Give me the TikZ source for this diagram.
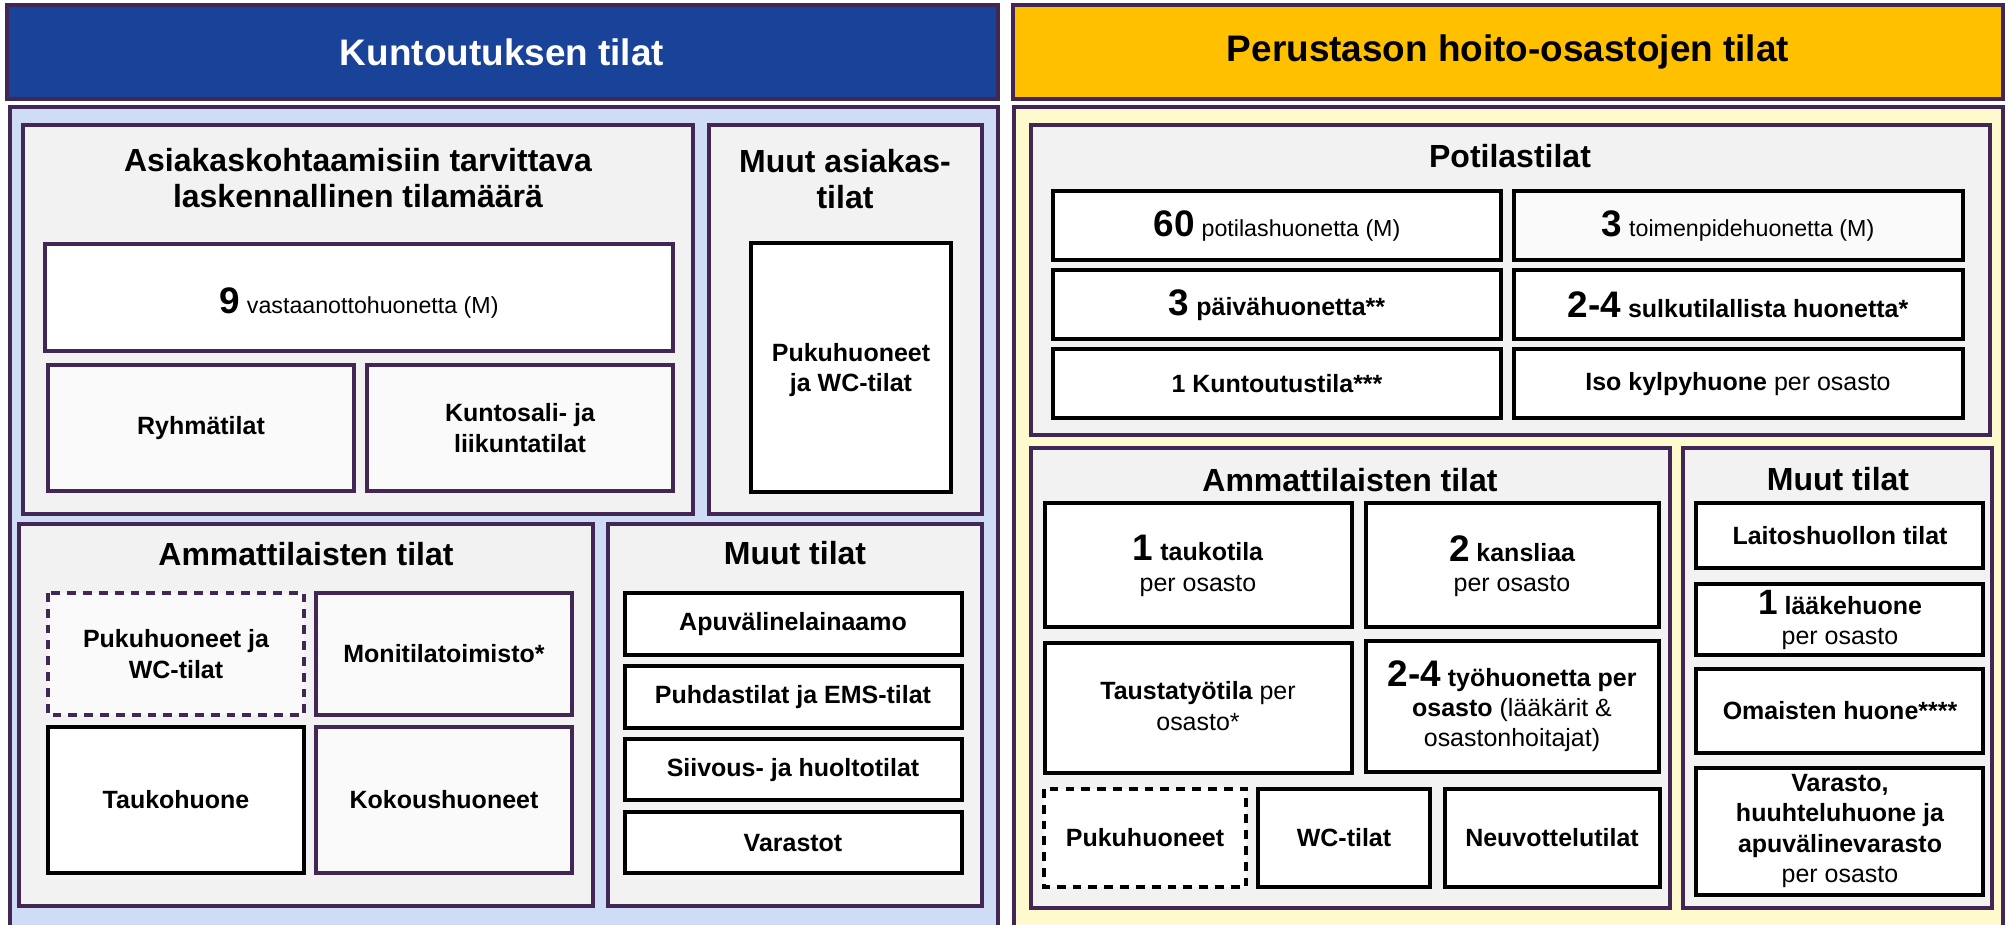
\documentclass[tikz,border=0pt]{standalone}
\usepackage{fontspec}
\setmainfont{Liberation Sans}

\definecolor{hdrblue}{RGB}{25,66,153}
\definecolor{hdrgold}{RGB}{255,192,0}
\definecolor{bodyblue}{RGB}{207,220,245}
\definecolor{bodyyellow}{RGB}{255,249,206}
\definecolor{panelgray}{RGB}{242,242,242}
\definecolor{roomgray}{RGB}{250,250,250}
\definecolor{framepurple}{RGB}{66,38,84}

\newcommand{\bignr}[1]{{\fontsize{10.5}{10.5}\selectfont\bfseries #1}}
\newcommand{\reg}[1]{{\mdseries #1}}
\newcommand{\smallreg}[1]{{\fontsize{6.6}{7.4}\selectfont\mdseries #1}}

\tikzset{
  hdr/.style={font=\fontsize{10.5}{12}\selectfont\bfseries},
  sect/.style={fill=panelgray,draw=framepurple,line width=0.9pt},
  room/.style={fill=white,draw=black,line width=0.9pt},
  roomp/.style={fill=roomgray,draw=framepurple,line width=0.9pt},
  ttl/.style={font=\fontsize{9.1}{10}\selectfont\bfseries,align=center},
  lbl/.style={font=\fontsize{7.1}{8.6}\selectfont\bfseries,align=center},
}

\begin{document}
\begin{tikzpicture}[x=0.01cm,y=-0.01cm]
\useasboundingbox[fill=white] (0,0) rectangle (2009,924);

% vasen puoli: kuntoutus
\draw[fill=hdrblue,draw=framepurple,line width=0.9pt] (7,5) rectangle (998,99);
\node[hdr,text=white] (kt) at (502,52) {Kuntoutuksen tilat};
\draw[fill=bodyblue,draw=framepurple,line width=0.9pt] (10,107) rectangle (998,940);

\draw[sect] (23,125) rectangle (693,514);
\node[ttl] (asiak) at (358,178) {Asiakaskohtaamisiin tarvittava\\laskennallinen tilamäärä};
\draw[fill=white,draw=framepurple,line width=0.9pt] (45,244) rectangle (673,351);
\node[lbl] (vast) at (359,303) {\bignr{9} \smallreg{vastaanottohuonetta (M)}};
\draw[roomp] (48,365) rectangle (354,491);
\node[lbl] (ryhma) at (201,428) {Ryhmätilat};
\draw[roomp] (367,365) rectangle (673,491);
\node[lbl] (kunto) at (520,428) {Kuntosali- ja\\liikuntatilat};

\draw[sect] (709,125) rectangle (982,514);
\node[ttl] (muuta) at (845,179) {Muut asiakas-\\tilat};
\draw[room] (751,243) rectangle (951,492);
\node[lbl] (pukua) at (851,370) {Pukuhuoneet\\ja WC-tilat};

\draw[sect] (19,524) rectangle (593,906);
\node[ttl] (amml) at (306,554) {Ammattilaisten tilat};
\draw[fill=roomgray,draw=framepurple,line width=0.9pt,dash pattern=on 2.5pt off 2pt] (48,593) rectangle (304,715);
\node[lbl] (pukul) at (176,654) {Pukuhuoneet ja\\WC-tilat};
\draw[roomp] (316,593) rectangle (572,715);
\node[lbl] (moni) at (444,654) {Monitilatoimisto*};
\draw[room] (48,727) rectangle (304,873);
\node[lbl] (tauko) at (176,800) {Taukohuone};
\draw[roomp] (316,727) rectangle (572,873);
\node[lbl] (kokous) at (444,800) {Kokoushuoneet};

\draw[sect] (608,524) rectangle (982,906);
\node[ttl] (muutl) at (795,553) {Muut tilat};
\draw[room] (625,593) rectangle (962,655);
\node[lbl] (apuv) at (793,624) {Apuvälinelainaamo};
\draw[room] (625,666) rectangle (962,728);
\node[lbl] (puhd) at (793,697) {Puhdastilat ja EMS-tilat};
\draw[room] (625,739) rectangle (962,800);
\node[lbl] (siiv) at (793,770) {Siivous- ja huoltotilat};
\draw[room] (625,812) rectangle (962,873);
\node[lbl] (var) at (793,843) {Varastot};

% oikea puoli: hoito-osastot
\draw[fill=hdrgold,draw=framepurple,line width=0.9pt] (1013,5) rectangle (2003,99);
\node[hdr] (pt) at (1508,52) {Perustason hoito-osastojen tilat};
\draw[fill=bodyyellow,draw=framepurple,line width=0.9pt] (1014,107) rectangle (2003,940);

\draw[sect] (1031,125) rectangle (1990,435);
\node[ttl] (pot) at (1510,156) {Potilastilat};
\draw[room] (1053,191) rectangle (1501,260);
\node[lbl] (pot60) at (1277,226) {\bignr{60} \smallreg{potilashuonetta (M)}};
\draw[fill=roomgray,draw=black,line width=0.9pt] (1514,191) rectangle (1963,260);
\node[lbl] (toim) at (1738,226) {\bignr{3} \smallreg{toimenpidehuonetta (M)}};
\draw[room] (1053,270) rectangle (1501,339);
\node[lbl] (paiva) at (1277,305) {\bignr{3} päivähuonetta**};
\draw[room] (1514,270) rectangle (1963,339);
\node[lbl] (sulku) at (1738,305) {\bignr{2-4} sulkutilallista huonetta*};
\draw[room] (1053,349) rectangle (1501,418);
\node[lbl] (kunt) at (1277,384) {1 Kuntoutustila***};
\draw[room] (1514,349) rectangle (1963,418);
\node[lbl] (kylpy) at (1738,384) {Iso kylpyhuone \reg{per osasto}};

\draw[sect] (1031,448) rectangle (1670,908);
\node[ttl] (ammr) at (1350,480) {Ammattilaisten tilat};
\draw[room] (1045,503) rectangle (1352,627);
\node[lbl] (taukor) at (1198,566) {\bignr{1} taukotila\\\reg{per osasto}};
\draw[room] (1366,503) rectangle (1659,627);
\node[lbl] (kans) at (1512,566) {\bignr{2} kansliaa\\\reg{per osasto}};
\draw[room] (1045,643) rectangle (1352,773);
\node[lbl] (taust) at (1198,706) {Taustatyötila \reg{per}\\\reg{osasto*}};
\draw[room] (1366,641) rectangle (1659,772);
\node[lbl] (tyoh) at (1512,706) {\bignr{2-4} työhuonetta per\\osasto \reg{(lääkärit \&}\\\reg{osastonhoitajat)}};
\draw[fill=white,draw=black,line width=0.9pt,dash pattern=on 2.5pt off 2pt] (1044,789) rectangle (1246,887);
\node[lbl] (pukur) at (1145,838) {Pukuhuoneet};
\draw[room] (1258,789) rectangle (1430,887);
\node[lbl] (wc) at (1344,838) {WC-tilat};
\draw[room] (1445,789) rectangle (1660,887);
\node[lbl] (neuv) at (1552,838) {Neuvottelutilat};

\draw[sect] (1683,448) rectangle (1992,908);
\node[ttl] (muutr) at (1838,479) {Muut tilat};
\draw[room] (1696,503) rectangle (1983,568);
\node[lbl] (laitos) at (1840,536) {Laitoshuollon tilat};
\draw[room] (1696,584) rectangle (1983,655);
\node[lbl] (laake) at (1840,620) {{\fontsize{10}{10}\selectfont 1} lääkehuone\\\reg{per osasto}};
\draw[room] (1696,669) rectangle (1983,753);
\node[lbl] (omais) at (1840,711) {Omaisten huone****};
\draw[room] (1696,768) rectangle (1983,895);
\node[lbl] (varasto) at (1840,831) {Varasto,\\huuhteluhuone ja\\apuvälinevarasto\\\reg{per osasto}};

\end{tikzpicture}
\end{document}
